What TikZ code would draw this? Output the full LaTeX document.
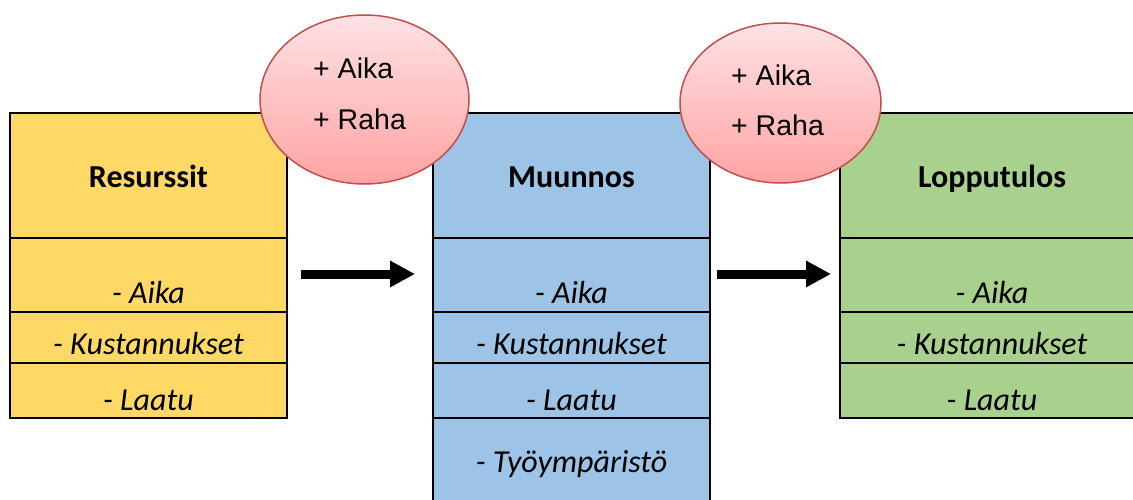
\documentclass[tikz,border=0pt]{standalone}
\usepackage{fontspec}
\setmainfont{Carlito}
\newfontfamily\arialf{Liberation Sans}
\usetikzlibrary{shapes.geometric,arrows.meta}
\definecolor{resY}{HTML}{FFD966}
\definecolor{munB}{HTML}{9DC3E6}
\definecolor{lopG}{HTML}{A9D18E}
\definecolor{bubR}{HTML}{C0504D}
\definecolor{bubT}{HTML}{FFE2E5}
\definecolor{bubB}{HTML}{FFA3A3}
\begin{document}
\begin{tikzpicture}[x=1pt,y=-1pt,
  cell/.style={draw=black, line width=1.8pt, rectangle, inner sep=0pt, minimum width=277pt},
  lbl/.style={anchor=base, inner sep=0pt, font=\fontsize{32}{38}\selectfont\itshape},
  ttl/.style={anchor=base, inner sep=0pt, font=\fontsize{32}{38}\selectfont\bfseries},
  bubble/.style={ellipse, draw=bubR, line width=1.5pt, top color=bubT, bottom color=bubB, inner sep=0pt},
  btxt/.style={anchor=base west, inner sep=0pt, font=\arialf\fontsize{28.5}{34}\selectfont},
  fat/.style={line width=9pt, -{Triangle[length=25pt,width=25pt]}}]
\clip (0,0) rectangle (1133,500);
% Resurssit
\node[cell, fill=resY, minimum height=125pt] (r0) at (148.5,175.5) {};
\node[cell, fill=resY, minimum height=74pt] (r1) at (148.5,275) {};
\node[cell, fill=resY, minimum height=51pt] (r2) at (148.5,337.5) {};
\node[cell, fill=resY, minimum height=55pt] (r3) at (148.5,390.5) {};
% Muunnos
\node[cell, fill=munB, minimum height=125pt] (m0) at (571.5,175.5) {};
\node[cell, fill=munB, minimum height=74pt] (m1) at (571.5,275) {};
\node[cell, fill=munB, minimum height=51pt] (m2) at (571.5,337.5) {};
\node[cell, fill=munB, minimum height=55pt] (m3) at (571.5,390.5) {};
\node[cell, fill=munB, minimum height=102pt] (m4) at (571.5,469) {};
% Lopputulos
\node[cell, fill=lopG, minimum width=304pt, minimum height=125pt] (l0) at (992,175.5) {};
\node[cell, fill=lopG, minimum width=304pt, minimum height=74pt] (l1) at (992,275) {};
\node[cell, fill=lopG, minimum width=304pt, minimum height=51pt] (l2) at (992,337.5) {};
\node[cell, fill=lopG, minimum width=304pt, minimum height=55pt] (l3) at (992,390.5) {};
% texts
\node[ttl] (rt) at (148.5,187) {Resurssit};
\node[lbl] (ra) at (148.5,303) {- Aika};
\node[lbl] (rk) at (148.5,354) {- Kustannukset};
\node[lbl] (rl) at (148.5,410) {- Laatu};
\node[ttl] (mt) at (571.5,187) {Muunnos};
\node[lbl] (ma) at (571.5,303) {- Aika};
\node[lbl] (mk) at (571.5,354) {- Kustannukset};
\node[lbl] (ml) at (571.5,410) {- Laatu};
\node[lbl] (mw) at (571.5,472) {- Työympäristö};
\node[ttl] (lt) at (992,187) {Lopputulos};
\node[lbl] (la) at (992,303) {- Aika};
\node[lbl] (lk) at (992,354) {- Kustannukset};
\node[lbl] (ll) at (992,410) {- Laatu};
% arrows
\coordinate (a1s) at (301,274);
\coordinate (a1e) at (415,274);
\coordinate (a2s) at (717,274);
\coordinate (a2e) at (831,274);
\draw[fat] (a1s) -- (a1e);
\draw[fat] (a2s) -- (a2e);
% bubbles
\node[bubble, minimum width=209pt, minimum height=169pt] (e1) at (364.5,99.5) {};
\node[bubble, minimum width=201pt, minimum height=160pt] (e2) at (780.5,103) {};
\node[btxt] (e1a) at (313,79) {+ Aika};
\node[btxt] (e1b) at (313,130) {+ Raha};
\node[btxt] (e2a) at (731,86) {+ Aika};
\node[btxt] (e2b) at (731,136) {+ Raha};
\end{tikzpicture}
\end{document}
